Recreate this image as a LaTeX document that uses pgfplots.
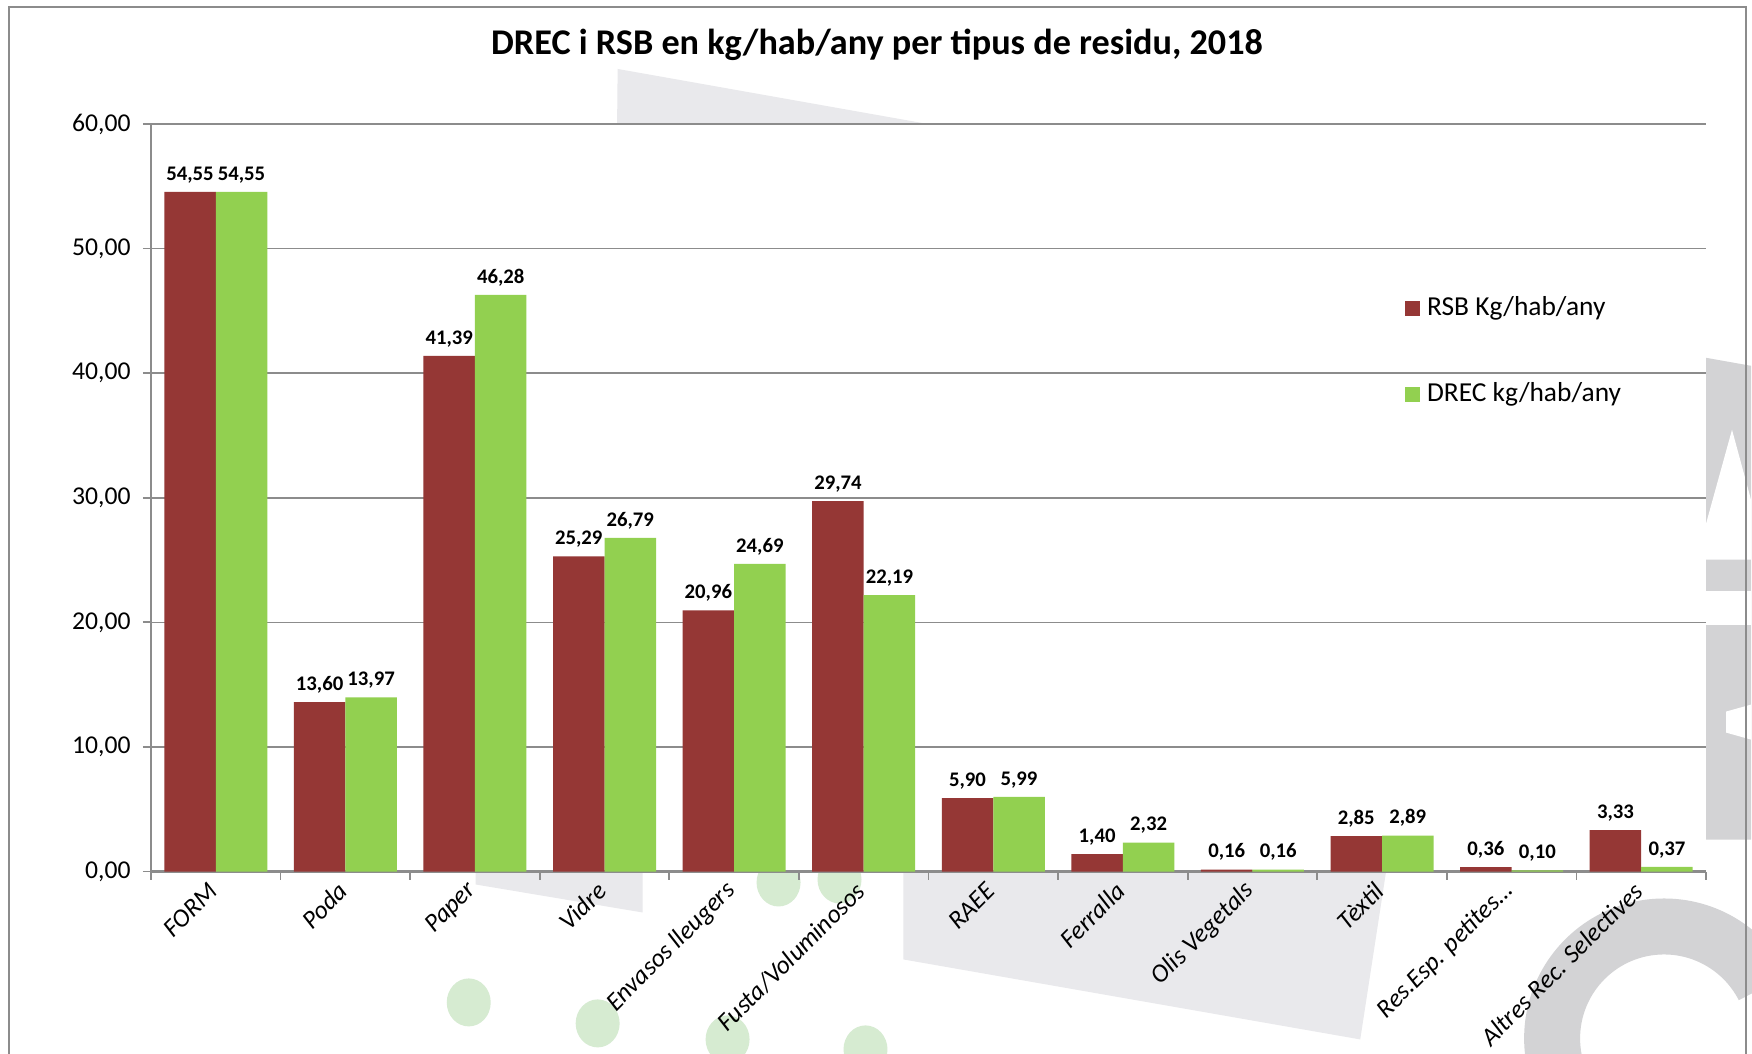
\documentclass[border=0pt]{standalone}
\usepackage{fontspec}
\setmainfont{Carlito}
\usepackage{pgfplots}
\pgfplotsset{compat=1.18}

\definecolor{rsb}{HTML}{953735}
\definecolor{drec}{HTML}{92D050}
\definecolor{gridgray}{HTML}{8C8C8C}
\definecolor{wmgray}{HTML}{E9E9EC}
\definecolor{wmdark}{HTML}{D3D3D5}
\definecolor{wmgreen}{HTML}{D6EBD1}

\pgfplotstableread{
idx rsb drec
0  54.55 54.55
1  13.60 13.97
2  41.39 46.28
3  25.29 26.79
4  20.96 24.69
5  29.74 22.19
6  5.90  5.99
7  1.40  2.32
8  0.16  0.16
9  2.85  2.89
10 0.36  0.10
11 3.33  0.37
}\residus

\begin{document}
\begin{tikzpicture}
\clip (0,0) rectangle (17.52cm,10.53cm);
\fill[white] (0,0) rectangle (17.52cm,10.53cm);

% watermark behind the chart (coordinates in pixels, y downward)
\begin{scope}[yshift=10.53cm, x=0.01cm, y=-0.01cm]
  \fill[wmgray] (618,69) -- (1300,190) -- (1300,871) -- (610,871) -- cycle;
  \fill[wmgray] (476,871) -- (643,871) -- (643,913) -- (476,885) -- cycle;
  \fill[wmgray] (904,871) -- (1387,871) -- (1361,1040) -- (904,960) -- cycle;
  \fill[wmdark] (1707,358) -- (1752,366) -- (1752,840) -- (1707,840) -- cycle;
  \fill[white] (1707,524) -- (1733,430) -- (1752,500) -- (1752,560) -- (1707,560) -- cycle;
  \fill[white] (1707,591) -- (1752,591) -- (1752,625) -- (1707,625) -- cycle;
  \fill[white] (1752,705) -- (1727,712) -- (1727,733) -- (1752,740) -- cycle;
  \fill[wmdark, even odd rule] (1665,1039) circle (140) (1665,1039) circle (84);
  \fill[white] (1665,1039) -- (1820,960) -- (1820,1160) -- cycle;
  \foreach \cx/\cy in {469/1003, 598/1024, 728/1040, 866/1050, 779/883, 840/880}
    \fill[wmgreen] (\cx,\cy) ellipse (22 and 24);
  \draw[gridgray, line width=0.57pt] (9,1100) -- (9,7) -- (1747,7) -- (1747,1100);
\end{scope}

\node[font=\fontsize{10.3}{12}\selectfont\bfseries] at (8.77cm,10.08cm)
  {DREC i RSB en kg/hab/any per tipus de residu, 2018};

\begin{axis}[
  at={(1.51cm,1.815cm)}, anchor=south west,
  width=15.55cm, height=7.475cm, scale only axis,
  axis background/.style={fill=white},
  ybar=0pt, bar width=0.515cm,
  xmin=-0.5, xmax=11.5, ymin=0, ymax=60,
  ytick={0,10,...,60},
  xtick={0,...,11},
  minor xtick={-0.5,0.5,...,11.5},
  xticklabels={FORM, Poda, Paper, Vidre, Envasos lleugers, Fusta/Voluminosos,
    RAEE, Ferralla, Olis Vegetals, Tèxtil, {Res.Esp. petites…}, Altres Rec. Selectives},
  axis x line*=bottom, axis y line*=left,
  axis line style={gridgray, line width=0.6pt, -},
  ymajorgrids, major grid style={gridgray, line width=0.45pt},
  tick align=outside, major tick length=0.08cm, minor tick length=0.08cm,
  major x tick style={draw=none},
  minor x tick style={gridgray, line width=0.5pt},
  major y tick style={gridgray, line width=0.5pt},
  yticklabel style={font=\fontsize{7.3}{8}\selectfont,
    /pgf/number format/fixed, /pgf/number format/fixed zerofill,
    /pgf/number format/precision=2, /pgf/number format/use comma,
    /pgf/number format/assume math mode=true},
  xticklabel style={font=\fontsize{7.3}{8}\selectfont\itshape, rotate=45, anchor=east,
    yshift=-1pt, xshift=1.5pt},
  nodes near coords,
  every node near coord/.append style={font=\fontsize{5.9}{7}\selectfont\bfseries,
    yshift=-1pt,
    /pgf/number format/fixed, /pgf/number format/fixed zerofill,
    /pgf/number format/precision=2, /pgf/number format/use comma,
    /pgf/number format/assume math mode=true},
  clip=false,
  legend style={at={(0.806,0.78)}, anchor=north west, draw=none, fill=none,
    font=\fontsize{7.8}{9}\selectfont, row sep=0.48cm, inner sep=0pt},
  legend cell align=left,
  legend image code/.code={\fill[#1] (0cm,-0.075cm) rectangle (0.15cm,0.075cm);},
]
\addplot[fill=rsb, draw=none] table[x=idx, y=rsb] {\residus};
\addplot[fill=drec, draw=none] table[x=idx, y=drec] {\residus};
\legend{RSB Kg/hab/any, DREC kg/hab/any}
\end{axis}
\end{tikzpicture}
\end{document}
